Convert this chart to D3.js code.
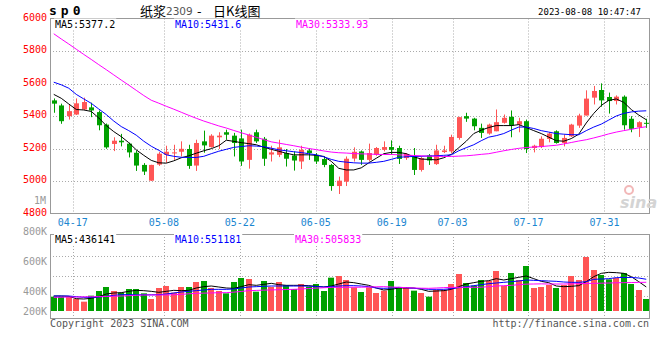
<!DOCTYPE html>
<html><head><meta charset="utf-8">
<script src="https://cdn.jsdelivr.net/npm/d3@7"></script>
<style>
body{margin:0;background:#fff}
svg{display:block}
text{font-family:"DejaVu Sans Mono",monospace}
</style>
</head><body>
<svg id="c" width="660" height="360"></svg>
<script>
// ---------- data ----------
const dates = ["04-12","04-13","04-14","04-17","04-18","04-19","04-20","04-21","04-24","04-25","04-26","04-27","04-28",
"05-04","05-05","05-08","05-09","05-10","05-11","05-12","05-15","05-16","05-17","05-18","05-19","05-22","05-23","05-24","05-25","05-26","05-29","05-30","05-31",
"06-01","06-02","06-05","06-06","06-07","06-08","06-09","06-12","06-13","06-14","06-15","06-16","06-19","06-20","06-21","06-26","06-27","06-28","06-29","06-30",
"07-03","07-04","07-05","07-06","07-07","07-10","07-11","07-12","07-13","07-14","07-17","07-18","07-19","07-20","07-21","07-24","07-25","07-26","07-27","07-28","07-31",
"08-01","08-02","08-03","08-04","08-07","08-08"];
const openP  = [5496,5465,5399,5409,5440,5453,5424,5347,5228,5248,5230,5174,5099,5002,5101,5161,5172,5180,5197,5095,5244,5209,5269,5300,5279,5262,5130,5300,5260,5163,5161,5172,5157,5120,5188,5161,5135,5099,4969,4996,5138,5182,5130,5161,5192,5209,5203,5141,5151,5068,5157,5104,5178,5182,5265,5399,5384,5327,5292,5306,5358,5395,5347,5368,5203,5209,5259,5306,5234,5275,5341,5403,5513,5560,5517,5492,5519,5383,5331,5358];
const highP  = [5508,5476,5471,5508,5513,5482,5434,5354,5269,5290,5236,5188,5110,5100,5178,5217,5223,5244,5223,5254,5310,5288,5300,5316,5296,5316,5292,5316,5271,5217,5254,5197,5182,5217,5203,5172,5151,5105,5027,5151,5207,5188,5230,5209,5244,5250,5217,5172,5203,5151,5166,5223,5217,5285,5395,5420,5389,5353,5353,5440,5409,5434,5389,5378,5223,5275,5300,5312,5285,5352,5414,5558,5585,5601,5544,5527,5527,5399,5368,5383];
const lowP   = [5420,5352,5378,5406,5437,5393,5312,5198,5184,5213,5145,5062,5037,5000,5093,5112,5130,5151,5075,5062,5174,5205,5197,5254,5151,5093,5076,5234,5093,5120,5147,5089,5064,5074,5130,5105,5085,4940,4920,4969,5120,5099,5120,5155,5182,5161,5105,5130,5037,5058,5099,5099,5172,5172,5254,5364,5312,5265,5285,5306,5353,5269,5300,5172,5176,5203,5238,5230,5213,5271,5327,5403,5471,5457,5415,5471,5316,5300,5271,5327];
const closeP = [5476,5368,5430,5478,5486,5434,5343,5207,5248,5238,5176,5095,5058,5099,5168,5180,5176,5198,5093,5234,5219,5279,5279,5285,5234,5120,5285,5244,5137,5176,5207,5137,5126,5192,5172,5120,5099,4969,5002,5137,5180,5130,5172,5203,5209,5192,5136,5166,5068,5141,5126,5188,5188,5271,5393,5384,5337,5296,5347,5362,5389,5341,5368,5197,5217,5260,5292,5234,5265,5347,5403,5507,5554,5496,5492,5519,5343,5321,5362,5352];
const ma5  = [5533,5509,5474,5440,5437,5428,5388,5341,5304,5273,5236,5192,5158,5127,5112,5110,5124,5143,5155,5171,5186,5199,5217,5251,5244,5236,5230,5223,5208,5195,5183,5171,5161,5161,5161,5158,5151,5121,5078,5068,5068,5081,5112,5140,5168,5176,5176,5168,5149,5135,5133,5130,5143,5164,5205,5245,5292,5313,5329,5341,5341,5341,5347,5329,5310,5292,5270,5248,5245,5261,5288,5357,5416,5465,5496,5505,5484,5440,5406,5377];
const ma10 = [5608,5592,5571,5533,5505,5478,5443,5409,5369,5335,5310,5282,5245,5214,5189,5161,5152,5146,5145,5145,5152,5168,5183,5195,5207,5212,5217,5215,5211,5202,5192,5186,5180,5175,5168,5161,5149,5133,5121,5116,5112,5110,5110,5115,5121,5133,5146,5149,5151,5152,5154,5155,5158,5161,5186,5205,5223,5248,5270,5279,5292,5313,5332,5332,5323,5310,5301,5292,5288,5285,5285,5310,5332,5350,5375,5400,5416,5425,5430,5432];
const ma30 = [5906,5874,5843,5811,5779,5748,5716,5685,5653,5621,5590,5558,5526,5497,5479,5460,5442,5423,5404,5386,5369,5354,5339,5326,5311,5297,5283,5269,5255,5241,5233,5225,5217,5208,5200,5193,5185,5178,5174,5172,5169,5167,5166,5164,5163,5163,5161,5159,5157,5155,5153,5152,5151,5151,5153,5155,5159,5164,5168,5177,5186,5194,5201,5206,5209,5212,5216,5220,5228,5237,5246,5254,5265,5277,5290,5301,5310,5318,5327,5334];
// volume in thousand lots
const volK = [290,290,290,255,215,305,375,435,375,350,405,405,340,255,420,450,350,435,435,510,525,420,375,340,510,570,555,365,525,435,510,465,405,480,440,480,375,575,600,540,430,360,430,345,380,525,430,430,380,345,290,390,390,480,630,495,455,540,525,675,450,645,540,750,420,435,465,420,465,600,540,885,690,615,550,570,645,480,390,255];
const vma5K  = [300,300,295,260,255,265,290,330,345,350,370,385,380,370,355,370,385,380,385,420,440,450,435,420,415,440,470,460,475,490,470,460,460,460,455,445,435,450,480,510,500,480,460,420,390,400,420,420,420,400,370,375,380,400,440,480,500,520,530,560,540,560,580,600,560,520,500,450,440,445,455,515,590,640,655,650,640,590,515,436];
const vma10K = [300,300,300,290,280,280,285,295,310,320,320,318,318,318,320,330,345,360,370,380,390,400,400,400,405,420,435,440,445,450,450,450,450,450,448,442,435,440,450,455,455,450,440,420,415,420,430,425,415,410,400,400,400,410,425,440,455,470,485,495,505,515,525,540,535,530,525,520,510,505,505,515,550,555,560,575,578,578,570,551];
const vma30K = [280,282,284,285,287,289,290,293,296,300,305,310,315,315,315,316,318,325,333,340,343,346,349,350,358,368,380,384,388,391,394,397,400,405,412,418,424,430,430,430,432,432,435,438,440,435,430,425,420,417,415,420,425,430,430,430,430,432,440,450,455,460,470,478,480,482,480,480,480,482,485,488,490,492,495,498,500,502,504,506];

const tickDates   = ["04-17","05-08","05-22","06-05","06-19","07-03","07-17","07-31"];
const priceTicks  = [6000,5800,5600,5400,5200,5000,4800];
const volGridK    = [300,600,900];
const volLabelK   = [800,600,400,200];
const volLabelTxt = ["800K","600K","400K","200K"];
const maPriceTxt  = ["MA5:5377.2","MA10:5431.6","MA30:5333.93"];
const maVolTxt    = ["MA5:436141","MA10:551181","MA30:505833"];
const maColors    = ["#000000","#0000ff","#ff00ff"];

// ---------- layout ----------
const L = 50, R = 650;
const pTop = 18.5, pBot = 213.5;
const vTop = 234, vBot = 318, vBarBase = 311;
const UP = "#ff5555", DOWN = "#00a000";
const GRID = "#aaaaaa", BORDER = "#999999";

const svg = d3.select("#c");
const yP = d3.scaleLinear().domain([4800,6000]).range([pBot,pTop]);
const yV = d3.scaleLinear().domain([0,1230]).range([316,vTop]);
const yVLab = d3.scaleLinear().domain([200,800]).range([321,231]);
const xB = d3.scaleBand().domain(dates).range([L,R]).paddingInner(0.3).paddingOuter(0.15);
const xVb = d3.scaleBand().domain(dates).range([L,R]).paddingInner(0.2).paddingOuter(0.1);
const xG = d3.scalePoint().domain(dates).range([L,R]);
const xc = d => xB(d) + xB.bandwidth()/2;

const idx = d3.range(dates.length);

// ---------- grids ----------
const g = svg.append("g");
// price horizontal grid
g.selectAll(".hp").data(priceTicks.filter(v => v>4800 && v<6000)).join("line")
  .attr("x1",L).attr("x2",R).attr("y1",d=>Math.round(yP(d))+0.5).attr("y2",d=>Math.round(yP(d))+0.5)
  .attr("stroke",GRID).attr("stroke-dasharray","1,2");
// volume horizontal grid
g.selectAll(".hv").data(volGridK).join("line")
  .attr("x1",L).attr("x2",R).attr("y1",d=>Math.round(yV(d))+0.5).attr("y2",d=>Math.round(yV(d))+0.5)
  .attr("stroke",GRID).attr("stroke-dasharray","1,2");
// vertical grid
tickDates.forEach(d => {
  const x = Math.round(xG(d))+0.5;
  g.append("line").attr("x1",x).attr("x2",x).attr("y1",pTop).attr("y2",pBot)
    .attr("stroke",GRID).attr("stroke-dasharray","1,2");
  g.append("line").attr("x1",x).attr("x2",x).attr("y1",vTop).attr("y2",vBot)
    .attr("stroke",GRID).attr("stroke-dasharray","1,2");
});

// ---------- candles ----------
const cg = svg.append("g");
idx.forEach(i => {
  const up = closeP[i] >= openP[i];
  const col = up ? UP : DOWN;
  const x = Math.round(xc(dates[i]));
  cg.append("line").attr("x1",x+0.5).attr("x2",x+0.5)
    .attr("y1",yP(highP[i])).attr("y2",yP(lowP[i])).attr("stroke",col).attr("stroke-width",1);
  const y1 = yP(Math.max(openP[i],closeP[i])), y2 = yP(Math.min(openP[i],closeP[i]));
  const bw = Math.round(xB.bandwidth());
  cg.append("rect").attr("x",x+0.5-bw/2).attr("width",bw)
    .attr("y",y1).attr("height",Math.max(1,y2-y1)).attr("fill",col);
});

// ---------- volume bars ----------
const vg = svg.append("g");
vg.selectAll("rect").data(idx).join("rect")
  .attr("x",i=>Math.round(xVb(dates[i])))
  .attr("width",Math.round(xVb.bandwidth()))
  .attr("y",i=>yV(volK[i]))
  .attr("height",i=>vBarBase - yV(volK[i]))
  .attr("fill",i=> closeP[i] >= openP[i] ? UP : DOWN);

// ---------- MA lines ----------
const lineP = arr => d3.line().x(i=>xc(dates[i])).y(i=>yP(arr[i]))(idx);
const lineV = arr => d3.line().x(i=>xc(dates[i])).y(i=>yV(arr[i]))(idx);
[ma5,ma10,ma30].forEach((a,k)=>{
  svg.append("path").attr("d",lineP(a)).attr("fill","none").attr("stroke",maColors[k]).attr("stroke-width",1);
});
[vma5K,vma10K,vma30K].forEach((a,k)=>{
  svg.append("path").attr("d",lineV(a)).attr("fill","none").attr("stroke",maColors[k]).attr("stroke-width",1);
});

// ---------- borders ----------
svg.append("rect").attr("x",L+0.5).attr("y",pTop).attr("width",R-L-1).attr("height",pBot-pTop)
  .attr("fill","none").attr("stroke",BORDER);
svg.append("rect").attr("x",L+0.5).attr("y",vTop+0.5).attr("width",R-L-1).attr("height",vBot-vTop)
  .attr("fill","none").attr("stroke",BORDER);

// ---------- axis labels ----------
svg.selectAll(".pl").data(priceTicks).join("text")
  .attr("x",47).attr("y",d=>yP(d)+2).attr("text-anchor","end")
  .attr("font-size",10).attr("fill","#ff0000").text(d=>d);
svg.append("text").attr("x",46).attr("y",203.5).attr("text-anchor","end")
  .attr("font-size",10).attr("fill","#999").text("1M");
svg.selectAll(".vl").data(volLabelK).join("text")
  .attr("x",47).attr("y",(d)=>Math.min(yVLab(d),311)+3.6).attr("text-anchor","end")
  .attr("font-size",10).attr("fill","#999").text((d,i)=>volLabelTxt[i]);
svg.selectAll(".dl").data(tickDates).join("text")
  .attr("x",d=>xG(d)).attr("y",225.5).attr("text-anchor","middle")
  .attr("font-size",10).attr("fill","#1a86d0").text(d=>d);

// ---------- MA legends with white backing ----------
function legend(texts, y, xs){
  texts.forEach((t,k)=>{
    const tx = svg.append("text").attr("x",xs[k]).attr("y",y).attr("font-size",10)
      .attr("fill",maColors[k]).text(t);
    const bb = tx.node().getBBox();
    svg.insert("rect", () => tx.node()).attr("x",bb.x-1).attr("y",bb.y).attr("width",bb.width+2)
      .attr("height",bb.height).attr("fill","#fff");
  });
}
legend(maPriceTxt, 27.5, [55,175,296]);
legend(maVolTxt, 242.5, [55,175,295]);

// ---------- header ----------
svg.append("text").attr("x",49).attr("y",15).attr("font-size",13).attr("font-weight","bold")
  .attr("letter-spacing","4px").attr("fill","#000").text("sp0");
svg.append("text").attr("x",140).attr("y",15.5).attr("font-size",13)
  .style("font-family","'Noto Sans CJK SC',sans-serif").attr("fill","#000").text("纸浆");
svg.append("text").attr("x",166).attr("y",15).attr("font-size",10.5)
  .style("font-family","'DejaVu Sans',sans-serif").attr("fill","#555").text("2309");
svg.append("text").attr("x",197).attr("y",15.5).attr("font-size",13)
  .style("font-family","'Noto Sans CJK SC',sans-serif").attr("fill","#000").text("-");
svg.append("text").attr("x",213).attr("y",15.5).attr("font-size",13)
  .style("font-family","'Noto Sans CJK SC',sans-serif").attr("fill","#000").text("日K线图");
svg.append("text").attr("x",641).attr("y",14.5).attr("text-anchor","end").attr("font-size",9)
  .attr("fill","#000").text("2023-08-08 10:47:47");

// ---------- footer ----------
svg.append("text").attr("x",50).attr("y",327).attr("font-size",10).attr("fill","#555").text("Copyright 2023 SINA.COM");
svg.append("text").attr("x",649).attr("y",327).attr("text-anchor","end").attr("font-size",10).attr("fill","#555").text("http://finance.sina.com.cn");

// ---------- watermark ----------
svg.append("circle").attr("cx",629).attr("cy",190).attr("r",4).attr("fill","none").attr("stroke","#f2b8b8").attr("stroke-width",2);
svg.append("text").attr("x",620).attr("y",208).attr("font-size",16).attr("font-weight","bold").attr("font-style","italic")
  .style("font-family","'DejaVu Sans',sans-serif").attr("fill","#d4d4d4").text("sina");
</script>
</body></html>
